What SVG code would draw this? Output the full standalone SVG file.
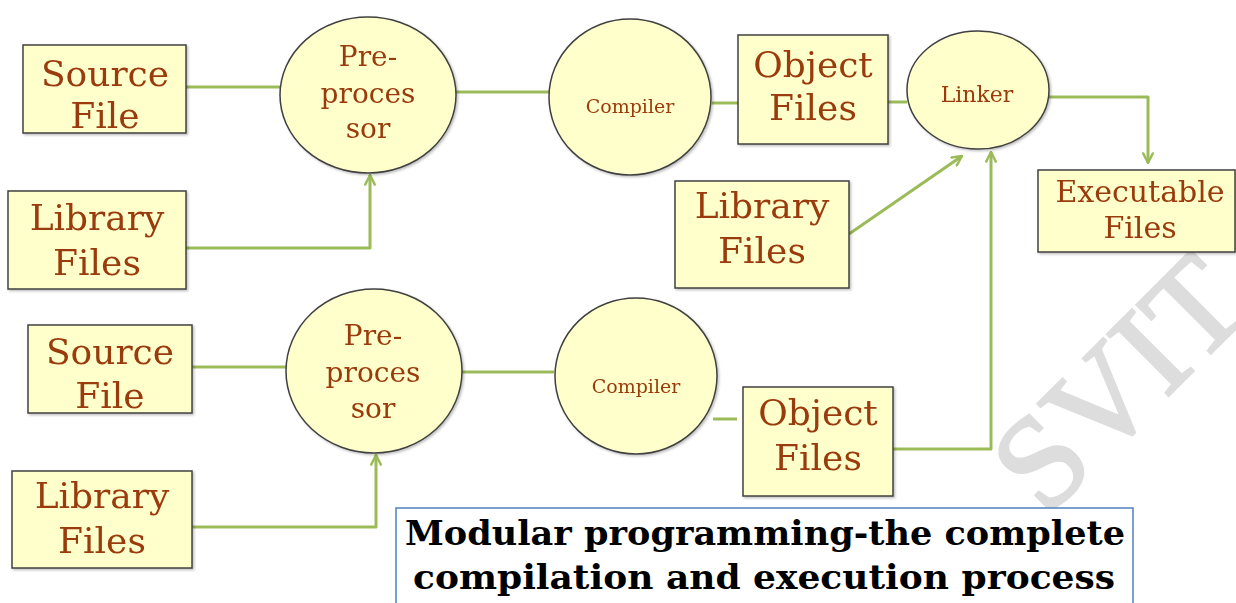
<svg xmlns="http://www.w3.org/2000/svg" width="1236" height="603" viewBox="0 0 1236 603">
  <defs>
    <style>
      .box { fill: #FFFFCC; stroke: #404040; stroke-width: 1.5; }
      .bubble { fill: #FFFFCC; stroke: #404040; stroke-width: 1.5; }
      .lbl { font-family: "DejaVu Serif", "Liberation Serif", serif; fill: #9A3B0B; text-anchor: middle; }
      .big { font-size: 36px; }
      .mid { font-size: 28px; }
      .exe { font-size: 30px; }
      .small { font-size: 19px; }
      .link { fill: none; stroke: #9BBB59; stroke-width: 3; stroke-linejoin: round; }
      .title { font-family: "DejaVu Serif", "Liberation Serif", serif; font-weight: bold; font-size: 34px; fill: #000; text-anchor: middle; }
    </style>
    <marker id="arrow" viewBox="0 0 10 10" refX="9" refY="5" markerWidth="4" markerHeight="4" orient="auto" markerUnits="strokeWidth">
      <path d="M1,1 L9,5 L1,9" fill="none" stroke="#9BBB59" stroke-width="2" stroke-linecap="round" stroke-linejoin="round"/>
    </marker>
    <filter id="shadow" x="-10%" y="-10%" width="130%" height="130%">
      <feDropShadow dx="1.5" dy="1.5" stdDeviation="1" flood-color="#000" flood-opacity="0.25"/>
    </filter>
  </defs>

  <!-- watermark -->
  <text x="0" y="0" transform="translate(1046,518) rotate(-45)" font-family="Liberation Serif, serif" font-size="132" fill="#DDDDDD" stroke="#DDDDDD" stroke-width="3">SVIT</text>

  <!-- connectors -->
  <g id="connectors">
    <path class="link" d="M186,87 H281"/>
    <path class="link" d="M186,248 H370 V175" marker-end="url(#arrow)"/>
    <path class="link" d="M456,92 H549"/>
    <path class="link" d="M712,103 H738"/>
    <path class="link" d="M888,102 H907"/>
    <path class="link" d="M1049,97 H1148 V163" marker-end="url(#arrow)"/>
    <path class="link" d="M849,234 L962,156" marker-end="url(#arrow)"/>
    <path class="link" d="M893,449 H991 V152" marker-end="url(#arrow)"/>
    <path class="link" d="M192,367 H286"/>
    <path class="link" d="M192,527 H376 V455" marker-end="url(#arrow)"/>
    <path class="link" d="M460,372 H554"/>
    <path class="link" d="M713,419 H737"/>
  </g>

  <!-- upper row -->
  <g id="source-file-1" filter="url(#shadow)">
    <rect class="box" x="23" y="45" width="163" height="88"/>
    <text class="lbl big" x="105" y="86">Source</text>
    <text class="lbl big" x="105" y="128">File</text>
  </g>
  <g id="library-files-1" filter="url(#shadow)">
    <rect class="box" x="8" y="191" width="178" height="98"/>
    <text class="lbl big" x="97" y="230">Library</text>
    <text class="lbl big" x="97" y="275">Files</text>
  </g>
  <g id="preprocessor-1" filter="url(#shadow)">
    <ellipse class="bubble" cx="368" cy="95" rx="88" ry="78"/>
    <text class="lbl mid" x="368" y="66">Pre-</text>
    <text class="lbl mid" x="368" y="103">proces</text>
    <text class="lbl mid" x="368" y="138">sor</text>
  </g>
  <g id="compiler-1" filter="url(#shadow)">
    <ellipse class="bubble" cx="630" cy="97" rx="81" ry="78"/>
    <text class="lbl small" x="630" y="113">Compiler</text>
  </g>
  <g id="object-files-1" filter="url(#shadow)">
    <rect class="box" x="738" y="35" width="150" height="109"/>
    <text class="lbl big" x="813" y="77">Object</text>
    <text class="lbl big" x="813" y="120">Files</text>
  </g>
  <g id="linker" filter="url(#shadow)">
    <ellipse class="bubble" cx="978" cy="90" rx="71" ry="59"/>
    <text class="lbl" x="977" y="102" font-size="22">Linker</text>
  </g>
  <g id="executable-files" filter="url(#shadow)">
    <rect class="box" x="1038" y="170" width="197" height="82"/>
    <text class="lbl exe" x="1140" y="202">Executable</text>
    <text class="lbl exe" x="1140" y="238">Files</text>
  </g>
  <g id="library-files-linker" filter="url(#shadow)">
    <rect class="box" x="675" y="181" width="174" height="107"/>
    <text class="lbl big" x="762" y="218">Library</text>
    <text class="lbl big" x="762" y="263">Files</text>
  </g>

  <!-- lower row -->
  <g id="source-file-2" filter="url(#shadow)">
    <rect class="box" x="28" y="325" width="164" height="88"/>
    <text class="lbl big" x="110" y="364">Source</text>
    <text class="lbl big" x="110" y="408">File</text>
  </g>
  <g id="library-files-2" filter="url(#shadow)">
    <rect class="box" x="12" y="471" width="180" height="97"/>
    <text class="lbl big" x="102" y="508">Library</text>
    <text class="lbl big" x="102" y="553">Files</text>
  </g>
  <g id="preprocessor-2" filter="url(#shadow)">
    <ellipse class="bubble" cx="374" cy="371" rx="88" ry="82"/>
    <text class="lbl mid" x="373" y="345">Pre-</text>
    <text class="lbl mid" x="373" y="382">proces</text>
    <text class="lbl mid" x="373" y="418">sor</text>
  </g>
  <g id="compiler-2" filter="url(#shadow)">
    <ellipse class="bubble" cx="636" cy="376" rx="81" ry="78"/>
    <text class="lbl small" x="636" y="393">Compiler</text>
  </g>
  <g id="object-files-2" filter="url(#shadow)">
    <rect class="box" x="743" y="387" width="150" height="109"/>
    <text class="lbl big" x="818" y="425">Object</text>
    <text class="lbl big" x="818" y="470">Files</text>
  </g>

  <!-- caption -->
  <g id="caption">
    <rect x="396" y="508" width="737" height="110" fill="#FFFFFF" stroke="#4F81BD" stroke-width="1.5"/>
    <text class="title" x="765" y="545" textLength="720" lengthAdjust="spacingAndGlyphs">Modular programming-the complete</text>
    <text class="title" x="764" y="589" textLength="702" lengthAdjust="spacingAndGlyphs">compilation and execution process</text>
  </g>
</svg>
